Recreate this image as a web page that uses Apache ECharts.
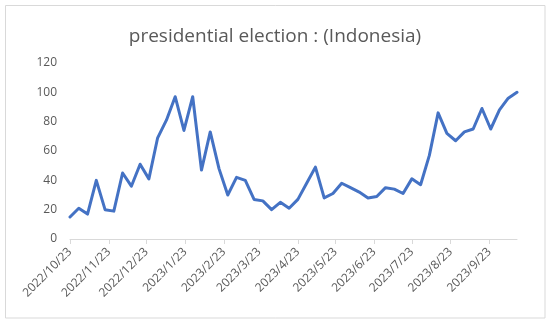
<!DOCTYPE html>
<html>
<head>
<meta charset="utf-8">
<script src="https://cdn.jsdelivr.net/npm/echarts@6/dist/echarts.min.js"></script>
<style>html,body{margin:0;padding:0;background:#fff;}#c{width:550px;height:325px;}</style>
</head>
<body>
<div id="c"></div>
<script>
const startDate = '2022-10-23';
const endDate = '2023-10-15';
const values = [15, 21, 17, 40, 20, 19, 45, 36, 51, 41, 69, 81, 97, 74, 97, 47, 73, 48, 30, 42,
  40, 27, 26, 20, 25, 21, 27, 38, 49, 28, 31, 38, 35, 32, 28, 29, 35, 34, 31, 41,
  37, 57, 86, 72, 67, 73, 75, 89, 75, 88, 96, 100];
const tickDates = ['2022-10-23', '2022-11-23', '2022-12-23', '2023-01-23', '2023-02-23', '2023-03-23',
  '2023-04-23', '2023-05-23', '2023-06-23', '2023-07-23', '2023-08-23', '2023-09-23'];
const yTicks = [0, 20, 40, 60, 80, 100, 120];

function ts(s) { const p = s.split('-').map(Number); return Date.UTC(p[0], p[1] - 1, p[2]); }
const DAY = 86400000;
const t0 = ts(startDate);
const seriesData = values.map((v, i) => [t0 + i * 7 * DAY, v]);
const tickTs = tickDates.map(ts);
function fmt(v) { const d = new Date(v); return d.getUTCFullYear() + '/' + (d.getUTCMonth() + 1) + '/' + d.getUTCDate(); }

const chart = echarts.init(document.getElementById('c'), null, { renderer: 'canvas' });
chart.setOption({
  animation: false,
  backgroundColor: '#fff',
  title: {
    text: 'presidential election : (Indonesia)',
    left: 'center',
    top: 22,
    textStyle: { fontFamily: 'Open Sans', fontSize: 19, fontWeight: 'normal', color: '#595959' }
  },
  graphic: [{
    type: 'rect',
    shape: { x: 5.5, y: 5.5, width: 539.5, height: 312.5 },
    style: { fill: 'none', stroke: '#d9d9d9', lineWidth: 1 },
    silent: true
  }],
  grid: { left: 70, right: 33, top: 63, bottom: 86, containLabel: false },
  xAxis: {
    type: 'value',
    min: ts(startDate),
    max: ts(endDate),
    axisLine: { show: true, lineStyle: { color: '#d9d9d9', width: 1 } },
    axisTick: { show: true, customValues: tickTs, length: 5, lineStyle: { color: '#d9d9d9' } },
    axisLabel: {
      customValues: tickTs,
      rotate: 45,
      formatter: fmt,
      fontFamily: 'Open Sans', fontSize: 12, color: '#595959', margin: 11
    },
    splitLine: { show: false }
  },
  yAxis: {
    type: 'value',
    min: 0, max: 120, interval: 20,
    axisLine: { show: false },
    axisTick: { show: false },
    splitLine: { show: false },
    axisLabel: { fontFamily: 'Open Sans', fontSize: 12, color: '#595959', margin: 13 }
  },
  series: [{
    type: 'line',
    data: seriesData,
    showSymbol: false,
    symbol: 'none',
    lineStyle: { color: '#4472C4', width: 3, join: 'round', cap: 'round' }
  }]
});
</script>
</body>
</html>
